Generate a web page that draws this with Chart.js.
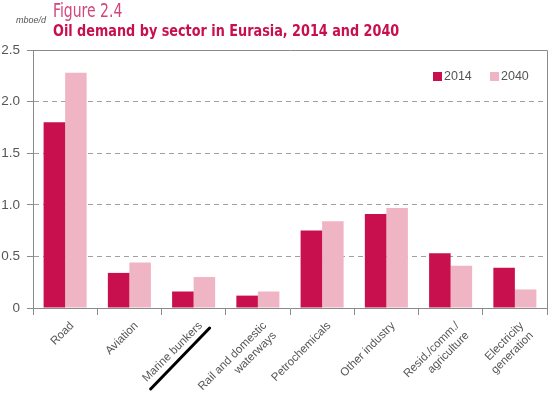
<!DOCTYPE html>
<html>
<head>
<meta charset="utf-8">
<script src="https://cdn.jsdelivr.net/npm/chart.js@4.4.1/dist/chart.umd.min.js"></script>
<style>
    body { margin: 0; background: #fff; }
    #wrap { position: relative; width: 550px; height: 400px; }
    #wrap canvas { position: absolute; left: 0; top: 0; }
    .unit { position: absolute; left: 16px; top: 15px; font: italic 9px "Liberation Sans", Arial, sans-serif; color: #555; }
    .fig { position: absolute; left: 53px; top: -1px; font: 19px "Liberation Sans Narrow", "DejaVu Sans Condensed", sans-serif; color: #d2457a; transform: scaleX(0.82); transform-origin: left top; }
    .title { position: absolute; left: 53px; top: 21px; font: bold 16px "Liberation Sans Narrow", "DejaVu Sans Condensed", sans-serif; color: #c8104e; white-space: nowrap; transform: scaleX(0.89); transform-origin: left top; }
</style>
</head>
<body>
<div id="wrap">
    <canvas id="chart" width="550" height="400"></canvas>
    <div class="unit">mboe/d</div>
    <div class="fig">Figure 2.4</div>
    <div class="title">Oil demand by sector in Eurasia, 2014 and 2040</div>
</div>
<script>
// Chart data
const categories = [
    'Road',
    'Aviation',
    'Marine bunkers',
    ['Rail and domestic', 'waterways'],
    'Petrochemicals',
    'Other industry',
    ['Resid./comm./', 'agriculture'],
    ['Electricity', 'generation']
];
const demand2014 = [1.80, 0.34, 0.16, 0.12, 0.75, 0.91, 0.53, 0.39];
const demand2040 = [2.28, 0.44, 0.30, 0.16, 0.84, 0.97, 0.41, 0.18];
const seriesLabels = ['2014', '2040'];
const yMin = 0, yMax = 2.5, yStep = 0.5;

const axisColor = '#8a8a8a';
const textColor = '#555';

// Top and right lines of the plot box
const boxPlugin = {
    id: 'box',
    afterDraw(chart) {
        const { ctx, chartArea: a } = chart;
        ctx.save();
        ctx.strokeStyle = axisColor;
        ctx.lineWidth = 1;
        ctx.beginPath();
        ctx.moveTo(a.left, a.top + 0.5);
        ctx.lineTo(a.right + 0.5, a.top + 0.5);
        ctx.lineTo(a.right + 0.5, a.bottom);
        ctx.stroke();
        ctx.restore();
    }
};

// Legend inside the plot, top right
const legendPlugin = {
    id: 'innerLegend',
    afterDraw(chart) {
        const { ctx, chartArea: a } = chart;
        const y = a.top + 27;
        let x = a.right - 114;
        ctx.save();
        ctx.font = '12.5px "Liberation Sans", Arial, sans-serif';
        ctx.textBaseline = 'middle';
        chart.data.datasets.forEach(ds => {
            ctx.fillStyle = ds.backgroundColor;
            ctx.fillRect(x, y - 5, 9, 9);
            ctx.fillStyle = textColor;
            ctx.fillText(ds.label, x + 11, y);
            x += 57;
        });
        ctx.restore();
    }
};

// Hand-drawn black stroke under "Marine bunkers"
const strokePlugin = {
    id: 'markStroke',
    afterDraw(chart) {
        const { ctx } = chart;
        const xs = chart.scales.x;
        const cx = xs.getPixelForValue(2);
        const by = chart.chartArea.bottom;
        ctx.save();
        ctx.strokeStyle = '#000';
        ctx.lineWidth = 3;
        ctx.lineCap = 'round';
        ctx.beginPath();
        ctx.moveTo(cx - 43, by + 81);
        ctx.lineTo(cx + 16, by + 20);
        ctx.stroke();
        ctx.restore();
    }
};

new Chart(document.getElementById('chart'), {
    type: 'bar',
    data: {
        labels: categories,
        datasets: [
            { label: seriesLabels[0], data: demand2014, backgroundColor: '#c8104e' },
            { label: seriesLabels[1], data: demand2040, backgroundColor: '#f0b5c5' }
        ]
    },
    options: {
        responsive: false,
        animation: false,
        layout: { padding: { top: 50, right: 3, left: 0, bottom: 0 } },
        datasets: {
            bar: { barPercentage: 1, categoryPercentage: 0.67 }
        },
        plugins: {
            legend: { display: false },
            tooltip: { enabled: false }
        },
        scales: {
            x: {
                afterFit(s) { s.height = 92; },
                grid: { drawOnChartArea: false, tickLength: 7, color: axisColor, offset: true },
                border: { color: axisColor },
                ticks: {
                    minRotation: 45,
                    maxRotation: 45,
                    padding: 4,
                    labelOffset: 7,
                    color: textColor,
                    font: { family: '"Liberation Sans", Arial, sans-serif', size: 11.5 }
                }
            },
            y: {
                min: yMin,
                max: yMax,
                afterFit(s) { s.width = 33; },
                grid: {
                    tickLength: 6,
                    tickColor: axisColor,
                    color: c => (c.tick.value === yMin || c.tick.value === yMax) ? 'rgba(0,0,0,0)' : '#a0a0a0'
                },
                border: { color: axisColor, dash: [5, 4] },
                ticks: {
                    stepSize: yStep,
                    padding: 7,
                    color: textColor,
                    font: { family: '"Liberation Sans", Arial, sans-serif', size: 13.5 },
                    callback: v => v === 0 ? '0' : v.toFixed(1)
                }
            }
        }
    },
    plugins: [boxPlugin, legendPlugin, strokePlugin]
});
</script>
</body>
</html>
